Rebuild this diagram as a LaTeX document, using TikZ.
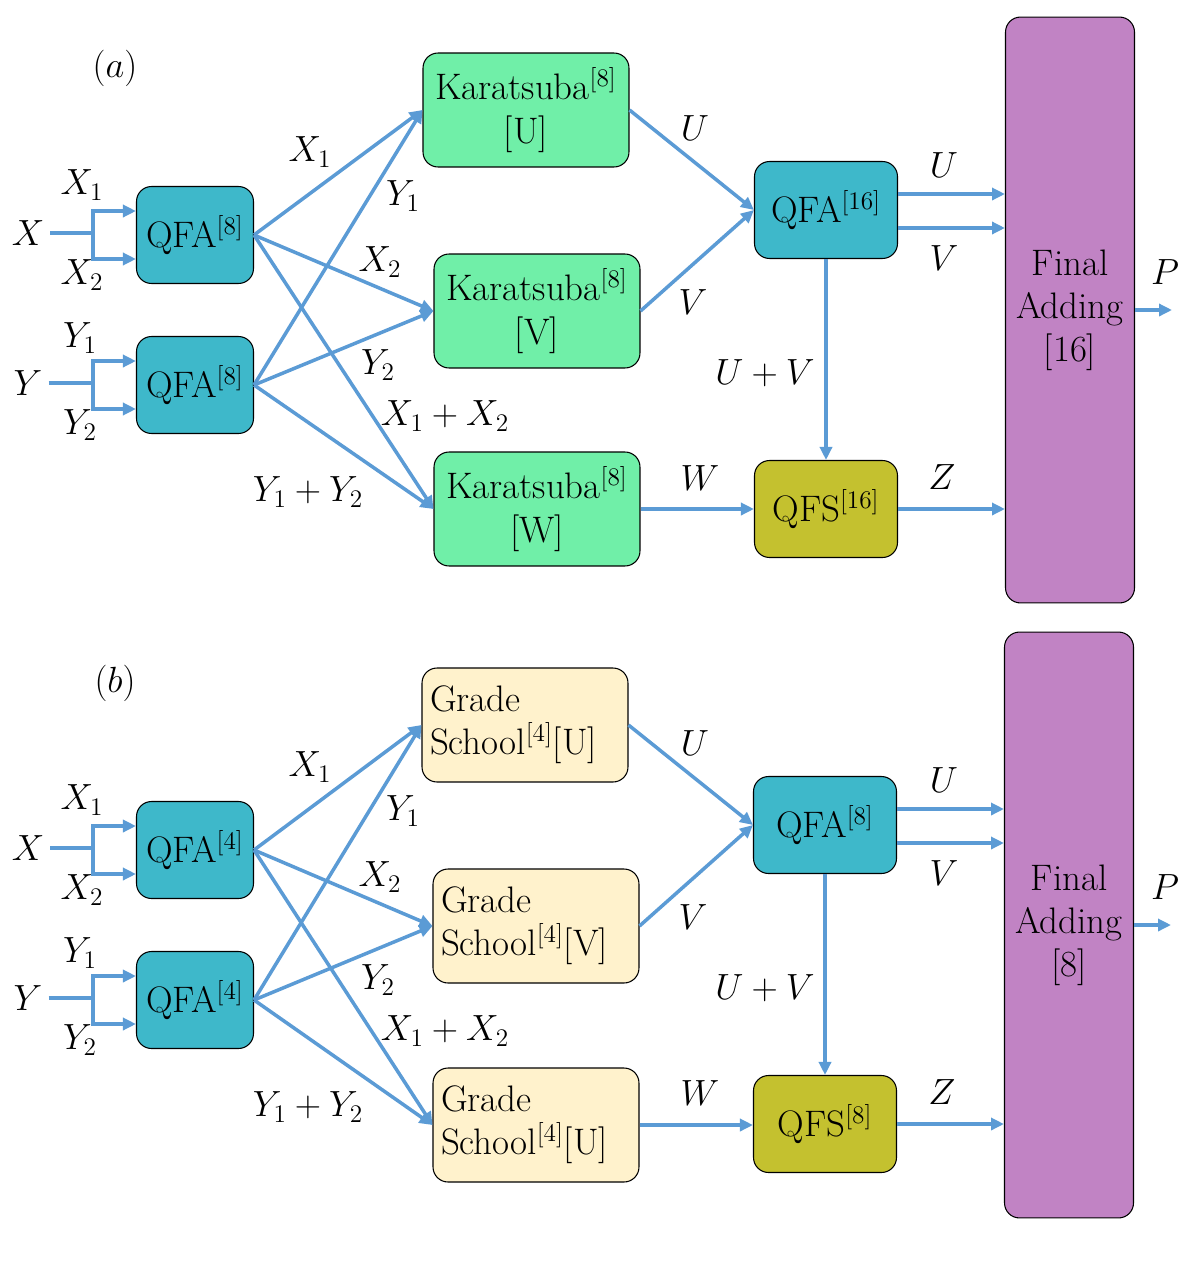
\documentclass[tikz,border=0pt]{standalone}
\usepackage{amsmath}
\usepackage{xcolor}
\usepackage{tikz}
\usetikzlibrary{arrows.meta}

\definecolor{qfacol}{HTML}{3EB8CA}
\definecolor{karcol}{HTML}{70EFA8}
\definecolor{qfscol}{HTML}{C4C12F}
\definecolor{fincol}{HTML}{C183C4}
\definecolor{gracol}{HTML}{FFF2CC}
\definecolor{wirecol}{HTML}{5B9BD5}

\begin{document}
\begin{tikzpicture}[x=0.02cm, y=-0.02cm, font=\fontsize{21}{24.5}\selectfont,
            >={Triangle[length=2.6mm,width=2.4mm]},
            box/.style={draw, rounded corners=0.3cm, line width=0.6pt, inner sep=0pt},
            qfa/.style={box, fill=qfacol, minimum width=2.34cm, minimum height=1.94cm},
            qfab/.style={box, fill=qfacol, minimum width=2.86cm, minimum height=1.94cm},
            qfs/.style={box, fill=qfscol, minimum width=2.86cm, minimum height=1.94cm},
            kar/.style={box, fill=karcol, align=center, minimum width=4.12cm, minimum height=2.28cm},
            gra/.style={box, fill=gracol, align=left, text width=3.8cm, minimum width=4.12cm, minimum height=2.28cm},
            fin/.style={box, fill=fincol, align=center, minimum width=2.58cm, minimum height=11.72cm},
            link/.style={draw=wirecol, line width=2pt},
            arr/.style={link, ->}]

            \useasboundingbox (0,0) rectangle (1182,1281);

            % (a) Karatsuba
            \node at (115,68) {$(a)$};
            \node (ax) at (28,233) {$X$};
            \node (ay) at (28,383) {$Y$};
            \node[qfa] (aqx) at (195,235) {QFA$^{[8]}$};
            \node[qfa] (aqy) at (195,385) {QFA$^{[8]}$};
            \node[kar] (aku) at (526,110) {Karatsuba$^{[8]}$\\{[U]}};
            \node[kar] (akv) at (537,311) {Karatsuba$^{[8]}$\\{[V]}};
            \node[kar] (akw) at (537,509) {Karatsuba$^{[8]}$\\{[W]}};
            \node[qfab] (aqa) at (826,210) {QFA$^{[16]}$};
            \node[qfs] (aqs) at (826,509) {QFS$^{[16]}$};
            \node[fin] (afin) at (1070,310) {Final\\Adding\\{[16]}};
            \coordinate (axf) at (93,233);
            \coordinate (ayf) at (93,383);
            \coordinate (ap) at (1172,310);

            % fourches d'entree
            \draw[link] (ax.east) -- (axf);
            \draw[arr] (axf) |- ([yshift=0.48cm]aqx.west);
            \draw[arr] (axf) |- ([yshift=-0.48cm]aqx.west);
            \draw[link] (ay.east) -- (ayf);
            \draw[arr] (ayf) |- ([yshift=0.48cm]aqy.west);
            \draw[arr] (ayf) |- ([yshift=-0.48cm]aqy.west);
            \node at (82,185) {$X_1$};
            \node at (82,275) {$X_2$};
            \node at (80,338) {$Y_1$};
            \node at (80,425) {$Y_2$};

            % vers les multiplieurs
            \draw[arr] (aqx.east) -- (aku.west);
            \draw[arr] (aqy.east) -- (aku.west);
            \draw[arr] (aqx.east) -- (akv.west);
            \draw[arr] (aqy.east) -- (akv.west);
            \draw[arr] (aqx.east) -- (akw.west);
            \draw[arr] (aqy.east) -- (akw.west);
            \node at (310,152) {$X_1$};
            \node at (403,196) {$Y_1$};
            \node at (380,262) {$X_2$};
            \node at (378,365) {$Y_2$};
            \node at (445,416) {$X_1+X_2$};
            \node at (308,492) {$Y_1+Y_2$};

            % sorties
            \draw[arr] (aku.east) -- (aqa.west);
            \draw[arr] (akv.east) -- (aqa.west);
            \draw[arr] (akw) -- (akw -| aqs.west);
            \draw[arr] (aqa) -- (aqs);
            \draw[arr] ([yshift=0.32cm]aqa.east) -- ([yshift=0.32cm]aqa.east -| afin.west);
            \draw[arr] ([yshift=-0.36cm]aqa.east) -- ([yshift=-0.36cm]aqa.east -| afin.west);
            \draw[arr] (aqs) -- (aqs -| afin.west);
            \draw[arr] (afin.east) -- (ap);
            \node at (695,128) {$U$};
            \node at (693,302) {$V$};
            \node at (944,165) {$U$};
            \node at (944,258) {$V$};
            \node at (765,373) {$U+V$};
            \node at (700,478) {$W$};
            \node at (942,477) {$Z$};
            \node at (1165,272) {$P$};

            % (b) Grade School
            \begin{scope}[shift={(0,615)}]
            \node at (115,68) {$(b)$};
            \node (bx) at (28,233) {$X$};
            \node (by) at (28,383) {$Y$};
            \node[qfa] (bqx) at (195,235) {QFA$^{[4]}$};
            \node[qfa] (bqy) at (195,385) {QFA$^{[4]}$};
            \node[gra] (bku) at (525,110) {Grade\\School$^{[4]}$[U]};
            \node[gra] (bkv) at (536,311) {Grade\\School$^{[4]}$[V]};
            \node[gra] (bkw) at (536,510) {Grade\\School$^{[4]}$[U]};
            \node[qfab] (bqa) at (825,210) {QFA$^{[8]}$};
            \node[qfs] (bqs) at (825,509) {QFS$^{[8]}$};
            \node[fin] (bfin) at (1069,310) {Final\\Adding\\{[8]}};
            \coordinate (bxf) at (93,233);
            \coordinate (byf) at (93,383);
            \coordinate (bp) at (1171,310);

            % fourches d'entree
            \draw[link] (bx.east) -- (bxf);
            \draw[arr] (bxf) |- ([yshift=0.48cm]bqx.west);
            \draw[arr] (bxf) |- ([yshift=-0.48cm]bqx.west);
            \draw[link] (by.east) -- (byf);
            \draw[arr] (byf) |- ([yshift=0.48cm]bqy.west);
            \draw[arr] (byf) |- ([yshift=-0.48cm]bqy.west);
            \node at (82,185) {$X_1$};
            \node at (82,275) {$X_2$};
            \node at (80,338) {$Y_1$};
            \node at (80,425) {$Y_2$};

            % vers les multiplieurs
            \draw[arr] (bqx.east) -- (bku.west);
            \draw[arr] (bqy.east) -- (bku.west);
            \draw[arr] (bqx.east) -- (bkv.west);
            \draw[arr] (bqy.east) -- (bkv.west);
            \draw[arr] (bqx.east) -- (bkw.west);
            \draw[arr] (bqy.east) -- (bkw.west);
            \node at (310,152) {$X_1$};
            \node at (403,196) {$Y_1$};
            \node at (380,262) {$X_2$};
            \node at (378,365) {$Y_2$};
            \node at (445,416) {$X_1+X_2$};
            \node at (308,492) {$Y_1+Y_2$};

            % sorties
            \draw[arr] (bku.east) -- (bqa.west);
            \draw[arr] (bkv.east) -- (bqa.west);
            \draw[arr] (bkw) -- (bkw -| bqs.west);
            \draw[arr] (bqa) -- (bqs);
            \draw[arr] ([yshift=0.32cm]bqa.east) -- ([yshift=0.32cm]bqa.east -| bfin.west);
            \draw[arr] ([yshift=-0.36cm]bqa.east) -- ([yshift=-0.36cm]bqa.east -| bfin.west);
            \draw[arr] (bqs) -- (bqs -| bfin.west);
            \draw[arr] (bfin.east) -- (bp);
            \node at (695,128) {$U$};
            \node at (693,302) {$V$};
            \node at (944,165) {$U$};
            \node at (944,258) {$V$};
            \node at (765,373) {$U+V$};
            \node at (700,478) {$W$};
            \node at (942,477) {$Z$};
            \node at (1165,272) {$P$};
            \end{scope}

        \end{tikzpicture}
\end{document}
